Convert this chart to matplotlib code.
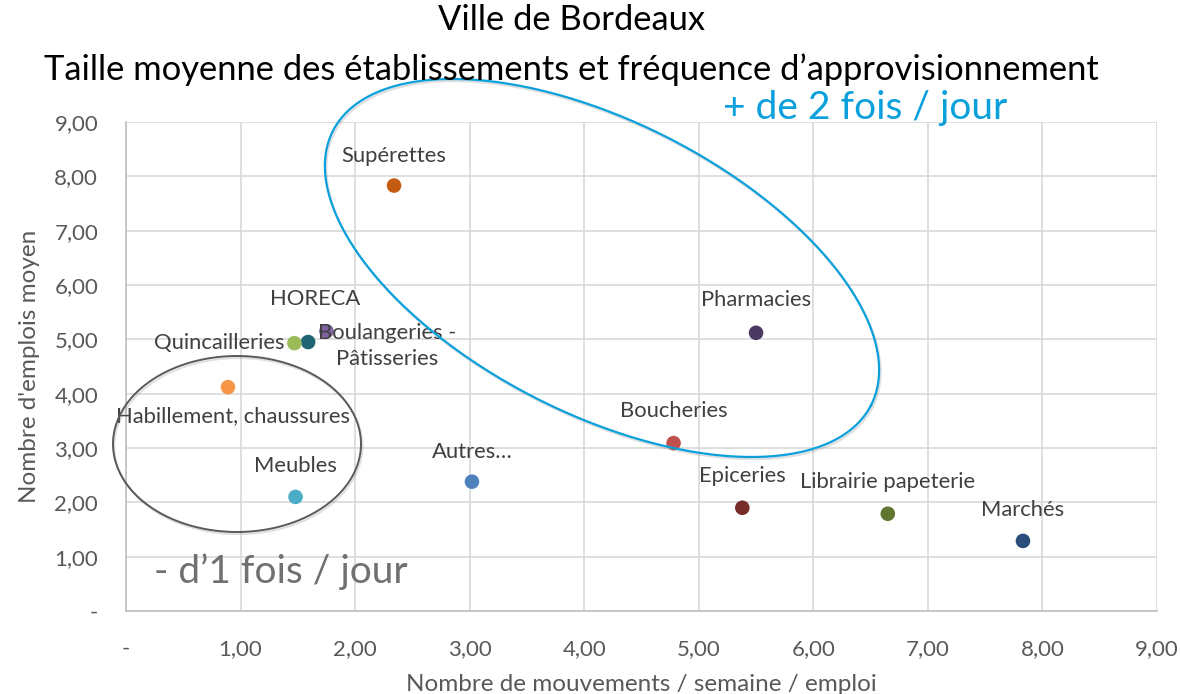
import numpy as np
import matplotlib
matplotlib.use("Agg")
import matplotlib.pyplot as plt
from matplotlib.ticker import FuncFormatter, MultipleLocator
import matplotlib.patheffects as pe

plt.rcParams['font.family'] = ['Lato', 'DejaVu Sans']

# ---- data ----
categories = ["Supérettes", "HORECA", "Boulangeries -\nPâtisseries", "Quincailleries",
              "Habillement, chaussures", "Meubles", "Autres…", "Pharmacies",
              "Boucheries", "Epiceries", "Librairie papeterie", "Marchés"]
mouvements = [2.34, 1.75, 1.59, 1.47, 0.89, 1.48, 3.02, 5.50, 4.78, 5.38, 6.65, 7.83]
emplois = [7.83, 5.15, 4.95, 4.93, 4.12, 2.10, 2.38, 5.12, 3.09, 1.90, 1.79, 1.29]
colors = ["#C55A11", "#8064A2", "#1F6374", "#9BBB59", "#F79646", "#4BACC6",
          "#4F81BD", "#4A3960", "#C0504D", "#772C2A", "#5F7530", "#2A4D7C"]
# label offsets in pixels (dx, dy up), horizontal alignment
label_style = [((0, 30), 'center'), ((-11, 32), 'center'), ((10, -4), 'left'),
               ((-10, 0), 'right'), ((5, -29), 'center'), ((0, 31), 'center'),
               ((0, 30), 'center'), ((0, 33), 'center'), ((0, 32), 'center'),
               ((0, 32), 'center'), ((0, 32), 'center'), ((0, 31), 'center')]

W, H = 1180, 694
fig = plt.figure(figsize=(W / 100, H / 100), dpi=100)
ax_l, ax_r, ax_b, ax_t = 126, 1157, 611, 122
ax = fig.add_axes([ax_l / W, (H - ax_b) / H, (ax_r - ax_l) / W, (ax_b - ax_t) / H])
ax.set_xlim(0, 9)
ax.set_ylim(0, 9)
sx = (ax_r - ax_l) / 9.0
sy = (ax_b - ax_t) / 9.0

ax.xaxis.set_major_locator(MultipleLocator(1))
ax.yaxis.set_major_locator(MultipleLocator(1))
fmt = FuncFormatter(lambda v, p: '-' if abs(v) < 1e-9 else f"{v:.2f}".replace('.', ','))
ax.xaxis.set_major_formatter(fmt)
ax.yaxis.set_major_formatter(fmt)
ax.grid(True, color="#D9D9D9", linewidth=1.2)
ax.set_axisbelow(True)
for s in ['top', 'right']:
    ax.spines[s].set_visible(False)
for s in ['left', 'bottom']:
    ax.spines[s].set_color("#BFBFBF")
    ax.spines[s].set_linewidth(1.2)
ax.tick_params(length=0, labelsize=16, colors="#595959")
ax.tick_params(axis='x', pad=20)
ax.tick_params(axis='y', pad=20)

ax.set_xlabel("Nombre de mouvements / semaine / emploi", fontsize=17.5, color="#595959", labelpad=11)
ax.set_ylabel("Nombre d'emplois moyen", fontsize=17.5, color="#595959", labelpad=10)

ax.scatter(mouvements, emplois, s=110, c=colors, zorder=3, linewidths=0)

for name, x, y, (off, ha) in zip(categories, mouvements, emplois, label_style):
    ax.annotate(name, (x, y), xytext=(off[0] * 0.72, off[1] * 0.72), textcoords='offset points',
                ha=ha, va='center', fontsize=15.8, color="#404040", zorder=4,
                multialignment='center', linespacing=1.35)

# ellipses drawn in pixel geometry, mapped into data coords
def ellipse(cx_px, cy_px, a, b, theta_deg, color, lw):
    t = np.linspace(0, 2 * np.pi, 400)
    th = np.deg2rad(theta_deg)
    px = cx_px + a * np.cos(t) * np.cos(th) - b * np.sin(t) * np.sin(th)
    py = cy_px + a * np.cos(t) * np.sin(th) + b * np.sin(t) * np.cos(th)
    xd = (px - ax_l) / sx
    yd = (ax_b - py) / sy
    ax.plot(xd, yd, color=color, lw=lw, clip_on=False, zorder=5,
            path_effects=[pe.SimpleLineShadow(offset=(1, -1.5), shadow_color='gray', alpha=0.25),
                          pe.Normal()])

ellipse(602, 268, 302, 146, 27.0, "#0AA0DC", 1.6)
ellipse(237, 444, 124, 88, 0, "#595959", 1.4)

ax.text((865 - ax_l) / sx, (ax_b - 108) / sy, "+ de 2 fois / jour", color="#0AA0DC",
        fontsize=28, ha='center', va='center', clip_on=False)
ax.text((281 - ax_l) / sx, (ax_b - 572) / sy, "- d’1 fois / jour", color="#707070",
        fontsize=28, ha='center', va='center', clip_on=False)

fig.text(571 / W, 1 - 20 / H, "Ville de Bordeaux", ha='center', va='center', fontsize=24.8, color="#000000")
fig.text(571 / W, 1 - 70 / H, "Taille moyenne des établissements et fréquence d’approvisionnement",
         ha='center', va='center', fontsize=24.8, color="#000000")

fig.savefig("out.png", dpi=100)
